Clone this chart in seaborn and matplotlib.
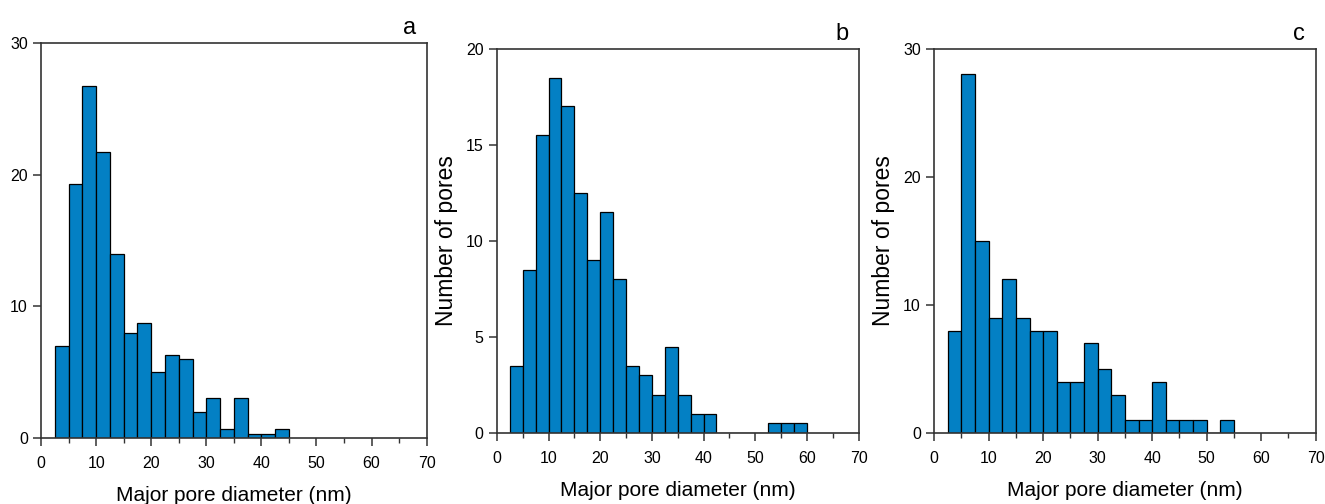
import numpy as np
import pandas as pd
import matplotlib
matplotlib.use("Agg")
import matplotlib.pyplot as plt
import seaborn as sns
from matplotlib.ticker import MultipleLocator

# bin counts, bins are 2.5 nm wide starting at 2.5 nm
bin_start = 2.5
bin_width = 2.5

counts_a = [7, 19.3, 26.7, 21.7, 14, 8, 8.7, 5, 6.3, 6, 2, 3, 0.7, 3, 0.3, 0.3, 0.7]
counts_b = [3.5, 8.5, 15.5, 18.5, 17, 12.5, 9, 11.5, 8, 3.5, 3, 2, 4.5, 2, 1, 1,
            0, 0, 0, 0, 0.5, 0.5, 0.5]
counts_c = [8, 28, 15, 9, 12, 9, 8, 8, 4, 4, 7, 5, 3, 1, 1, 4, 1, 1, 1, 0, 1]

panel_labels = ["a", "b", "c"]
y_max = [30, 20, 30]
y_step = [10, 5, 10]
x_label = "Major pore diameter (nm)"
y_label = "Number of pores"

sns.set_style("ticks")
plt.rcParams['font.family'] = ['Liberation Sans', 'DejaVu Sans']
plt.rcParams['text.color'] = 'black'
plt.rcParams['axes.labelcolor'] = 'black'
plt.rcParams['xtick.labelcolor'] = 'black'
plt.rcParams['ytick.labelcolor'] = 'black'

bar_color = "#0380c4"
spine_color = "#333333"

fig = plt.figure(figsize=(13.25, 5.04), dpi=100)
positions = [
    [0.031, 0.131, 0.291, 0.784],
    [0.375, 0.141, 0.273, 0.762],
    [0.705, 0.141, 0.288, 0.762],
]

for i, counts in enumerate([counts_a, counts_b, counts_c]):
    ax = fig.add_axes(positions[i])
    n = len(counts)
    centers = bin_start + bin_width * (np.arange(n) + 0.5)
    df = pd.DataFrame({"diam": centers, "count": counts})
    sns.histplot(data=df, x="diam", weights="count", ax=ax,
                 binwidth=bin_width,
                 binrange=(bin_start, bin_start + bin_width * n),
                 color=bar_color, alpha=1, edgecolor="black", linewidth=0.9)

    ax.set_xlim(0, 70)
    ax.set_ylim(0, y_max[i])
    ax.xaxis.set_major_locator(MultipleLocator(10))
    ax.xaxis.set_minor_locator(MultipleLocator(5))
    ax.yaxis.set_major_locator(MultipleLocator(y_step[i]))

    for s in ax.spines.values():
        s.set_visible(True)
        s.set_color(spine_color)
        s.set_linewidth(1.2)
    ax.tick_params(axis="both", which="major", direction="out", length=6,
                   width=1.1, color=spine_color, labelsize=11.5)
    ax.tick_params(axis="x", which="major", pad=7)
    ax.tick_params(axis="x", which="minor", direction="out", length=3.5,
                   width=1.0, color=spine_color)

    ax.set_xlabel(x_label, fontsize=15, labelpad=11)
    if i == 0:
        ax.set_ylabel("")
    else:
        ax.set_ylabel(y_label, fontsize=16.5, labelpad=6)
    ax.text(0.955, 1.01, panel_labels[i], transform=ax.transAxes,
            fontsize=17, ha="center", va="bottom")

fig.savefig("out.png", dpi=100, facecolor="white")
